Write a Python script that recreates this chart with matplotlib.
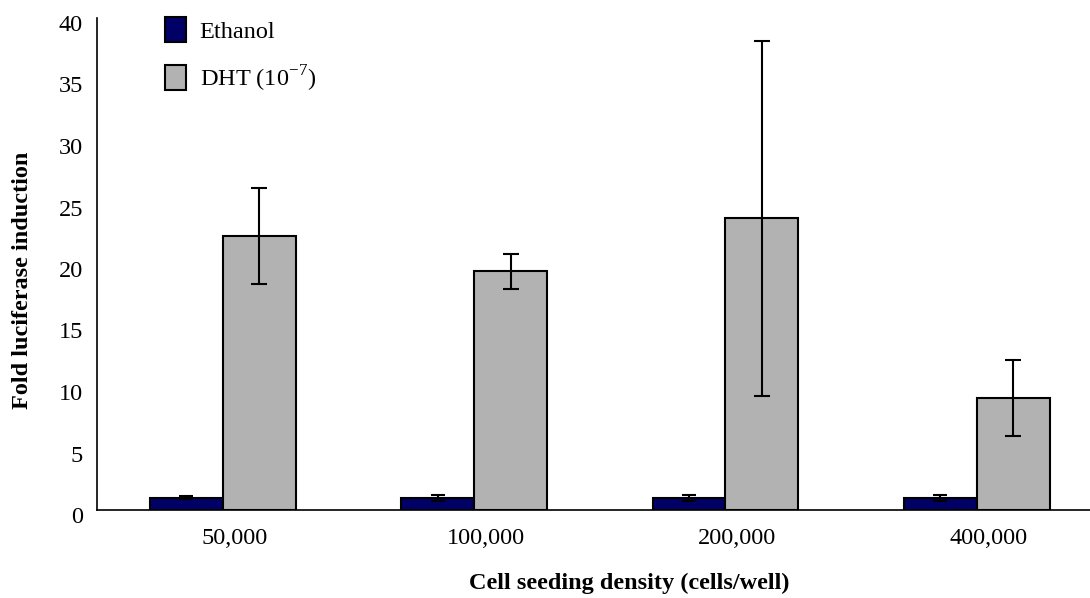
import matplotlib
matplotlib.use('Agg')
import matplotlib.pyplot as plt
import matplotlib.transforms as mtrans
import numpy as np

densities = ['50,000', '100,000', '200,000', '400,000']
ethanol = [1.0, 1.0, 1.0, 1.0]
ethanol_err = [0.1, 0.25, 0.25, 0.25]
dht = [22.3, 19.4, 23.7, 9.1]
dht_err = [3.9, 1.4, 14.4, 3.1]

plt.rcParams['font.family'] = ['Liberation Serif', 'DejaVu Serif']

fig = plt.figure(figsize=(10.9, 5.98), dpi=100)
ax = fig.add_axes([97 / 1090, 1 - 510 / 598, (1090 - 97) / 1090, (510 - 18) / 598])

x = np.arange(len(densities))
w = 0.29
ax.bar(x - w / 2, ethanol, w, yerr=ethanol_err, color='#000066', edgecolor='black',
       linewidth=1.5, capsize=5, error_kw=dict(elinewidth=1.5, capthick=1.5), label='Ethanol')
ax.bar(x + w / 2, dht, w, yerr=dht_err, color='#B2B2B2', edgecolor='black',
       linewidth=1.5, capsize=6, error_kw=dict(elinewidth=1.5, capthick=1.5),
       label='DHT (10$^{\\mathregular{-7}}$)')

ax.set_xlim(-0.5, 3.45)
ax.set_ylim(0, 40)
ax.set_yticks(range(0, 41, 5))
ax.set_xticks(x)
ax.set_xticklabels(densities)
ax.tick_params(axis='both', length=0, labelsize=17.5)
ax.tick_params(axis='x', pad=13)
ax.tick_params(axis='y', pad=10)
# nudge tick labels like the original (Excel-style offsets)
for lab in ax.get_xticklabels():
    lab.set_transform(lab.get_transform() + mtrans.ScaledTranslation(12 / 100, 0, fig.dpi_scale_trans))
for lab in ax.get_yticklabels():
    lab.set_transform(lab.get_transform() + mtrans.ScaledTranslation(0, -5 / 100, fig.dpi_scale_trans))
for s in ['top', 'right']:
    ax.spines[s].set_visible(False)
for s in ['left', 'bottom']:
    ax.spines[s].set_linewidth(1.2)

ax.set_xlabel('Cell seeding density (cells/well)', fontsize=17.5, fontweight='bold')
ax.xaxis.set_label_coords((629 - 97) / 993, (510 - 573) / 492)
ax.set_ylabel('Fold luciferase induction', fontsize=17.5, fontweight='bold')
ax.yaxis.set_label_coords((33 - 97) / 993, (510 - 280) / 492)

ax.legend(loc='upper left', bbox_to_anchor=(165 / 1090, 1 - 17 / 598), bbox_transform=fig.transFigure,
          frameon=False, fontsize=17.5, borderpad=0, borderaxespad=0,
          handlelength=0.87, handleheight=1.2, labelspacing=0.85, handletextpad=0.55)

plt.savefig('out.png', dpi=100)
plt.close('all')
